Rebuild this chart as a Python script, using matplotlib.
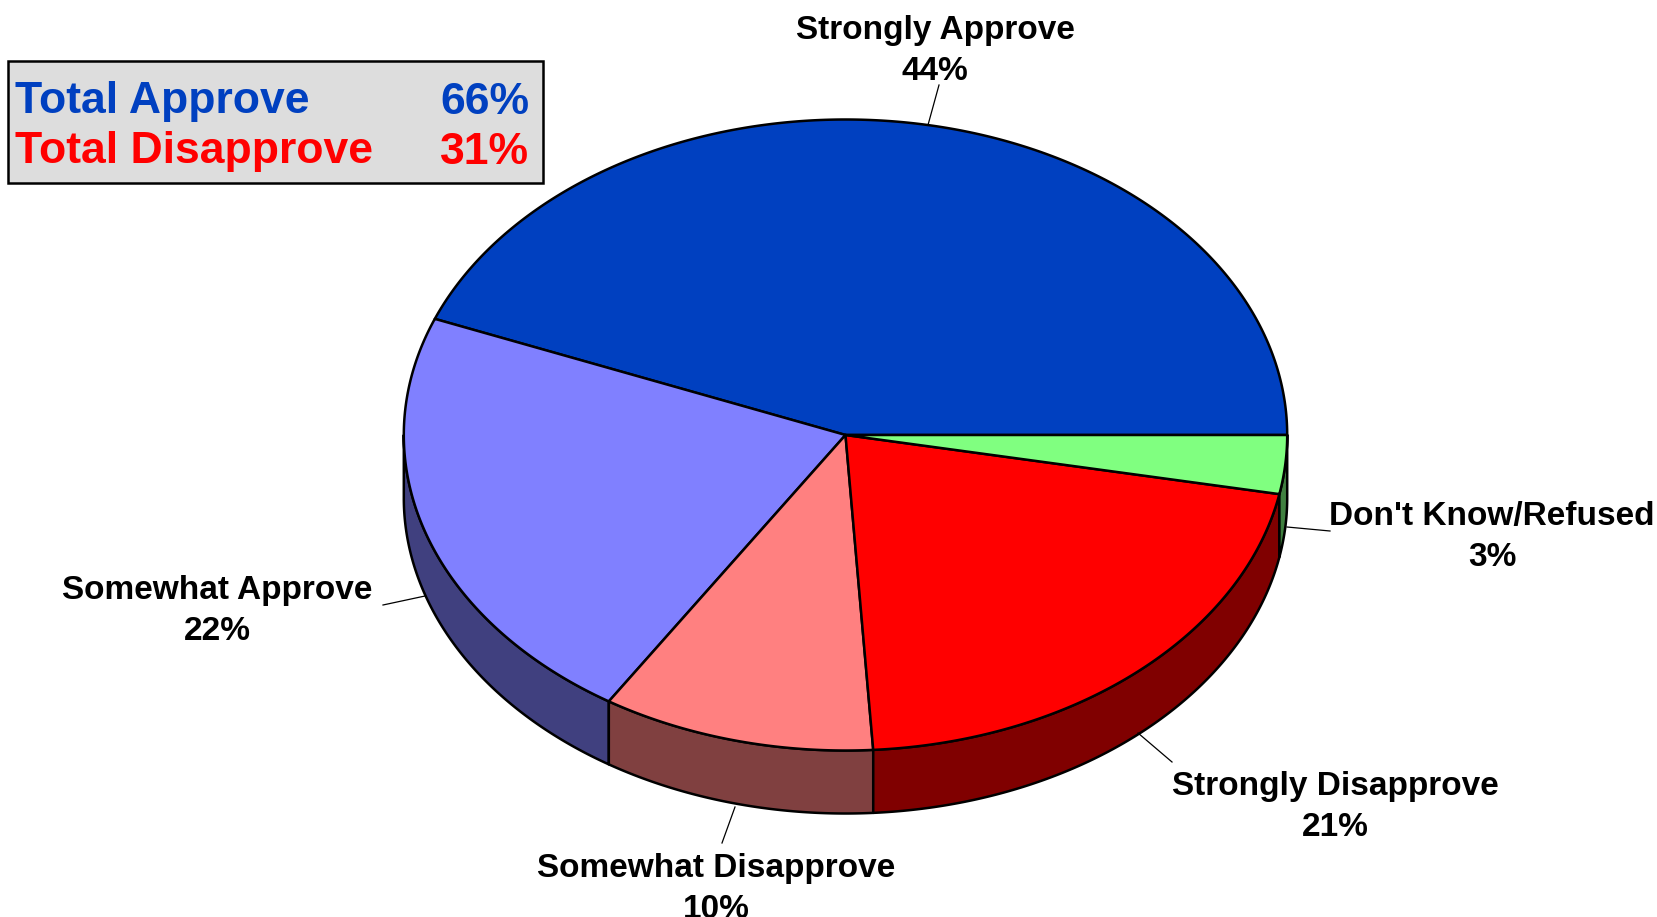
import numpy as np
import matplotlib
matplotlib.use("Agg")
import matplotlib.pyplot as plt
from matplotlib.patches import Polygon, Rectangle

# data
labels = ["Strongly Approve", "Somewhat Approve", "Somewhat Disapprove",
          "Strongly Disapprove", "Don't Know/Refused"]
values = [44, 22, 10, 21, 3]
top_colors = ["#0040C0", "#8080FF", "#FF8080", "#FF0000", "#80FF80"]
side_colors = ["#002060", "#40407F", "#804040", "#800000", "#408040"]

total_labels = ["Total Approve", "Total Disapprove"]
total_values = [66, 31]
total_colors = ["#0040C0", "#FF0000"]

# pie geometry (pixel coords, y down)
cx, cy = 845.5, 435.0
a, b = 441.7, 315.5
depth = 63

# label text centre (x, y of first line) and leader line (from, to)
label_pos = [(935, 30), (217, 590), (716, 868), (1335, 786), (1492, 516)]
leaders = [((939, 85), (928, 125)), ((383, 605), (425, 596)),
           ((722, 843), (735, 807)), ((1172, 762), (1138, 733)),
           ((1330, 531), (1287, 527))]

plt.rcParams['font.family'] = ['Liberation Sans', 'DejaVu Sans']

fig = plt.figure(figsize=(16.57, 9.17), dpi=100)
ax = fig.add_axes([0, 0, 1, 1])
ax.set_xlim(0, 1657)
ax.set_ylim(917, 0)
ax.axis('off')


def pt(t):
    r = np.radians(t)
    return cx + a * np.cos(r), cy - b * np.sin(r)


bounds = np.concatenate([[0], np.cumsum(values)]) / sum(values) * 360.0

# side walls (front half only)
for i in range(len(values)):
    t1, t2 = max(bounds[i], 180), min(bounds[i + 1], 360)
    if t2 <= t1:
        continue
    ts = np.linspace(t1, t2, 200)
    xs, ys = pt(ts)
    poly = np.column_stack([np.concatenate([xs, xs[::-1]]),
                            np.concatenate([ys, ys[::-1] + depth])])
    ax.add_patch(Polygon(poly, closed=True, facecolor=side_colors[i],
                         edgecolor='black', linewidth=1.8, joinstyle='round'))

# top faces
for i in range(len(values)):
    ts = np.linspace(bounds[i], bounds[i + 1], 300)
    xs, ys = pt(ts)
    poly = np.column_stack([np.concatenate([[cx], xs]), np.concatenate([[cy], ys])])
    ax.add_patch(Polygon(poly, closed=True, facecolor=top_colors[i],
                         edgecolor='black', linewidth=1.8, joinstyle='round'))

# labels
for i, lab in enumerate(labels):
    x, y = label_pos[i]
    ax.text(x, y, lab, ha='center', va='center', fontsize=24, fontweight='bold')
    ax.text(x, y + 41, f"{values[i]}%", ha='center', va='center',
            fontsize=24, fontweight='bold')
    (x0, y0), (x1, y1) = leaders[i]
    ax.plot([x0, x1], [y0, y1], color='black', linewidth=0.9)

# totals box
ax.add_patch(Rectangle((8, 61), 535, 122, facecolor='#DDDDDD',
                       edgecolor='black', linewidth=1.8))
for j, lab in enumerate(total_labels):
    y = 102 + j * 50
    ax.text(15, y, lab, ha='left', va='center', fontsize=32,
            fontweight='bold', color=total_colors[j])
    ax.text(529, y, f"{total_values[j]}%", ha='right', va='center',
            fontsize=32, fontweight='bold', color=total_colors[j])

fig.savefig("out.png", dpi=100)
